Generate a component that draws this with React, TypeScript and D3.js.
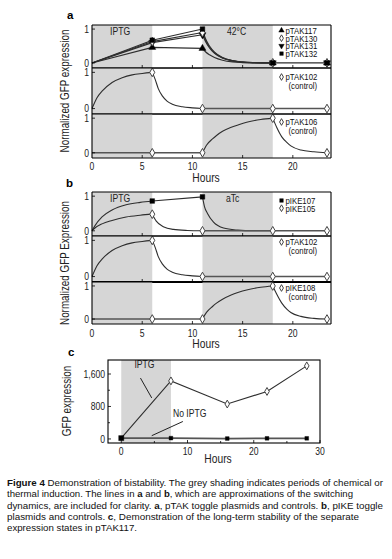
import React from 'react';
import * as d3 from 'd3';

type Pt = [number, number];

const FONT = "'Liberation Sans', Arial, sans-serif";
const SX = 0.82; // horizontal condensing of the figure's narrow typeface

// ---------- shared axis data ----------
const hourTicks = [0, 5, 10, 15, 20];
const inductionPeriods: Pt[] = [[0, 6], [11, 18]];
const sampleHours = [6, 11, 18, 23.4];

// ---------- panel a, top: pTAK toggles (markers at sampleHours) ----------
const pTAK117 = [0.46, 0.43, 0, 0];
const pTAK130 = [0.63, 0.9, 0, 0];
const pTAK131 = [0.6, 0.83, 0, 0];
const pTAK132 = [0.67, 1.0, 0, 0];
const decay117: Pt[] = [[11, 0.43], [11.3, 0.33], [11.7, 0.24], [12.2, 0.16], [13, 0.08], [14, 0.03], [15, 0.01], [16, 0], [18, 0]];
const decay130: Pt[] = [[11, 0.9], [11.3, 0.68], [11.7, 0.47], [12.2, 0.3], [13, 0.15], [14, 0.06], [15, 0.025], [16, 0.01], [18, 0]];
const decay131: Pt[] = [[11, 0.83], [11.3, 0.63], [11.7, 0.44], [12.2, 0.28], [13, 0.14], [14, 0.06], [15, 0.02], [16, 0.01], [18, 0]];
const decay132: Pt[] = [[11, 1.0], [11.3, 0.72], [11.7, 0.5], [12.2, 0.32], [13, 0.16], [14, 0.07], [15, 0.03], [16, 0.01], [18, 0]];

// ---------- control pTAK102 (IPTG-only reporter) ----------
const pTAK102 = [1.0, 0, 0, 0];
const rise102: Pt[] = [[0, 0], [0.5, 0.3], [1, 0.48], [2, 0.72], [3, 0.85], [4, 0.93], [5, 0.97], [6, 1.0]];
const decay102: Pt[] = [[6, 1.0], [6.3, 0.8], [6.6, 0.55], [7, 0.35], [7.5, 0.2], [8, 0.12], [9, 0.05], [10, 0.02], [11, 0]];

// ---------- control pTAK106 / pIKE108 ----------
const pTAK106 = [0, 0, 1.0, 0];
const rise106: Pt[] = [[11, 0], [11.4, 0.22], [12, 0.4], [12.4, 0.5], [13, 0.62], [13.8, 0.73], [14.6, 0.81], [15.4, 0.88], [16.8, 0.96], [18, 1.0]];
const decay106: Pt[] = [[18, 1.0], [18.4, 0.73], [18.9, 0.46], [19.4, 0.3], [19.8, 0.2], [20.8, 0.08], [22.1, 0.03], [23.4, 0]];
const pIKE108 = [0, 0, 1.0, 0];
const rise108: Pt[] = [[11, 0], [11.4, 0.2], [12, 0.38], [12.4, 0.48], [13, 0.6], [13.8, 0.72], [14.6, 0.81], [15.4, 0.88], [16.8, 0.96], [18, 1.0]];
const decay108: Pt[] = [[18, 1.0], [18.4, 0.75], [18.9, 0.48], [19.4, 0.3], [19.8, 0.2], [20.8, 0.08], [22.1, 0.02], [23.4, 0]];

// ---------- panel b, top: pIKE toggles ----------
const pIKE107 = [0.86, 0.98];
const pIKE105 = [0.48, 0, 0, 0];
const rise107: Pt[] = [[0, 0], [0.3, 0.15], [1, 0.4], [2, 0.6], [3.4, 0.75], [4.8, 0.82], [6, 0.86]];
const decay107: Pt[] = [[11, 0.98], [11.2, 0.7], [11.5, 0.5], [12.1, 0.25], [13.1, 0.08], [14.5, 0.02], [16, 0], [18, 0]];
const rise105: Pt[] = [[0, 0], [0.3, 0.08], [1, 0.2], [2, 0.3], [3.4, 0.4], [4.8, 0.45], [6, 0.48]];
const decay105: Pt[] = [[6, 0.48], [6.4, 0.28], [7.1, 0.12], [8.1, 0.04], [9.5, 0.01], [11, 0]];

// ---------- panel c ----------
const cHours = [0, 7.5, 16, 22, 28];
const cIPTG = [20, 1430, 860, 1170, 1800];
const cNoIPTG = [20, 20, 10, 15, 15];
const cYTicks = [0, 800, 1600];
const cYLabels = ['0', '800', '1,600'];
const cYMinor = [400, 1200];
const cXTicks = [0, 10, 20, 30];
const cXMinor = [5, 15, 25];
const cInduction: Pt = [0, 7.5];

// ---------- caption ----------
const captionLines: { parts: [string, boolean][]; end: number }[] = [
  { parts: [['Figure 4', true], [' Demonstration of bistability. The grey shading indicates periods of chemical or', false]], end: 383 },
  { parts: [['thermal induction. The lines in ', false], ['a', true], [' and ', false], ['b', true], [', which are approximations of the switching', false]], end: 353 },
  { parts: [['dynamics, are included for clarity. ', false], ['a', true], [', pTAK toggle plasmids and controls. ', false], ['b', true], [', pIKE toggle', false]], end: 383 },
  { parts: [['plasmids and controls. ', false], ['c', true], [', Demonstration of the long-term stability of the separate', false]], end: 359 },
  { parts: [['expression states in pTAK117.', false]], end: 137 },
];

// ---------- helpers ----------
const xAB = d3.scaleLinear().domain([0, 23.8]).range([92, 331]);
const SHADE = '#d6d6d6';
const LINE = '#2e2e2e';

function NText({ x, y, size, anchor = 'start', rotate = 0, children, fill = '#222' }: {
  x: number; y: number; size: number; anchor?: string; rotate?: number; children: React.ReactNode; fill?: string;
}) {
  return (
    <text transform={`translate(${x},${y}) rotate(${rotate}) scale(${SX},1)`} textAnchor={anchor as any}
      fontSize={size} fontFamily={FONT} fill={fill}>{children}</text>
  );
}

type MarkerKind = 'square' | 'diamond' | 'triUp' | 'triDown';

function Marker({ kind, x, y, size = 22 }: { kind: MarkerKind; x: number; y: number; size?: number }) {
  const sym =
    kind === 'square' ? d3.symbolSquare : kind === 'diamond' ? d3.symbolDiamond : d3.symbolTriangle;
  const path = d3.symbol().type(sym).size(size)() as string;
  const rot = kind === 'triDown' ? ' rotate(180)' : '';
  const open = kind === 'diamond';
  return (
    <path
      d={path}
      transform={`translate(${x},${y})${rot}`}
      fill={open ? '#fff' : '#000'}
      stroke={open ? '#444' : '#000'}
      strokeWidth={open ? 1 : 0.4}
    />
  );
}

type Seg = { pts: Pt[]; smooth: boolean; width?: number; color?: string };
type MarkSet = { hours: number[]; values: number[]; kind: MarkerKind };
type Legend = { kind: MarkerKind; label: string; sub?: string };

function Sub({
  top, bottom, segs, marks, legend, legendY, extraText, bottomWidth,
}: {
  top: number; bottom: number; segs: Seg[]; marks: MarkSet[]; legend: Legend[]; legendY: number;
  extraText?: { t: string; x: number }[]; bottomWidth?: number;
}) {
  const y = d3.scaleLinear().domain([-0.15, 1.12]).range([bottom, top]);
  const mk = (smooth: boolean) =>
    d3.line<Pt>().x(d => xAB(d[0])).y(d => y(d[1])).curve(smooth ? d3.curveMonotoneX : d3.curveLinear);
  const [x0, x1] = xAB.range();
  return (
    <g>
      {inductionPeriods.map((p, i) => (
        <rect key={i} x={xAB(p[0])} y={top} width={xAB(p[1]) - xAB(p[0])} height={bottom - top} fill={SHADE} />
      ))}
      {extraText?.map((e, i) => (
        <NText key={i} x={e.x} y={top + 10} size={10.5}>{e.t}</NText>
      ))}
      {segs.map((s, i) => (
        <path key={i} d={mk(s.smooth)(s.pts) as string} fill="none" stroke={s.color ?? LINE} strokeWidth={s.width ?? 1.1} />
      ))}
      {marks.map((m, i) =>
        m.hours.map((h, j) => <Marker key={`${i}-${j}`} kind={m.kind} x={xAB(h)} y={y(m.values[j])} />)
      )}
      {hourTicks.slice(1).map(t => (
        <line key={t} x1={xAB(t)} x2={xAB(t)} y1={bottom} y2={bottom - 3} stroke="#000" strokeWidth={0.8} />
      ))}
      {[0, 1].map(v => (
        <g key={v}>
          <line x1={x0} x2={x0 + 3} y1={y(v)} y2={y(v)} stroke="#000" strokeWidth={0.8} />
          <NText x={89} y={y(v) + 3.8} anchor="end" size={10.5}>{v}</NText>
        </g>
      ))}
      {legend.map((l, i) => (
        <g key={i}>
          <Marker kind={l.kind} x={281.5} y={legendY + i * 7.7} size={13} />
          <NText x={285.5} y={legendY + i * 7.7 + 3.3} size={9.5} fill="#111">{l.label}</NText>
          {l.sub && (
            <NText x={288.5} y={legendY + i * 7.7 + 12} size={9.5} fill="#111">{l.sub}</NText>
          )}
        </g>
      ))}
      <line x1={x0} x2={x1} y1={top} y2={top} stroke="#000" strokeWidth={1.1} />
      <line x1={x0} x2={x1} y1={bottom} y2={bottom} stroke="#000" strokeWidth={bottomWidth ?? 1.1} />
      <line x1={x0} x2={x0} y1={top} y2={bottom} stroke="#000" strokeWidth={1.1} />
      <line x1={x1} x2={x1} y1={top} y2={bottom} stroke="#000" strokeWidth={1.1} />
    </g>
  );
}

function lin(pts: Pt[]): Seg { return { pts, smooth: false }; }
function crv(pts: Pt[]): Seg { return { pts, smooth: true }; }
function flat(pts: Pt[]): Seg { return { pts, smooth: false, width: 1.6, color: '#555' }; }

function XAxisLabels({ baseline, hoursY }: { baseline: number; hoursY: number }) {
  return (
    <g>
      {hourTicks.map(t => (
        <NText key={t} x={xAB(t)} y={baseline} anchor="middle" size={10.5}>{t}</NText>
      ))}
      <NText x={206} y={hoursY} anchor="middle" size={12.5}>Hours</NText>
    </g>
  );
}

function PanelC() {
  const x = d3.scaleLinear().domain([-2, 30]).range([108, 320]);
  const y = d3.scaleLinear().domain([-100, 1945]).range([443, 360]);
  const line = d3.line<number>().x((_, i) => x(cHours[i])).y(d => y(d));
  const ann = [
    { t: 'IPTG', lx: 3.5, ly: 1760, anchor: 'middle', p: [[2.9, 1500], [4.6, 1010]] as Pt[] },
    { t: 'No IPTG', lx: 7.8, ly: 540, anchor: 'start', p: [[9.3, 430], [4.6, 80]] as Pt[] },
  ];
  return (
    <g>
      <rect x={x(cInduction[0])} y={360} width={x(cInduction[1]) - x(cInduction[0])} height={83} fill={SHADE} />
      <path d={line(cNoIPTG) as string} fill="none" stroke="#555" strokeWidth={1.8} />
      <path d={line(cIPTG) as string} fill="none" stroke={LINE} strokeWidth={1.1} />
      {cIPTG.map((v, i) => i > 0 && <Marker key={i} kind="diamond" x={x(cHours[i])} y={y(v)} size={18} />)}
      {cNoIPTG.map((v, i) => <Marker key={i} kind="square" x={x(cHours[i])} y={y(v)} size={i === 0 ? 26 : 14} />)}
      {ann.map((a, i) => (
        <g key={i}>
          <NText x={x(a.lx)} y={y(a.ly)} anchor={a.anchor} size={10.5}>{a.t}</NText>
          <line x1={x(a.p[0][0])} y1={y(a.p[0][1])} x2={x(a.p[1][0])} y2={y(a.p[1][1])} stroke="#222" strokeWidth={1} />
        </g>
      ))}
      <rect x={108} y={360} width={212} height={83} fill="none" stroke="#000" strokeWidth={1.1} />
      {cYTicks.map((t, i) => (
        <g key={t}>
          <line x1={108} x2={111} y1={y(t)} y2={y(t)} stroke="#000" strokeWidth={0.8} />
          <NText x={105} y={y(t) + 3.8} anchor="end" size={10.5}>{cYLabels[i]}</NText>
        </g>
      ))}
      {cYMinor.map(t => <line key={t} x1={108} x2={110} y1={y(t)} y2={y(t)} stroke="#000" strokeWidth={0.8} />)}
      {cXTicks.map(t => (
        <g key={t}>
          <line x1={x(t)} x2={x(t)} y1={443} y2={440} stroke="#000" strokeWidth={0.8} />
          <NText x={x(t)} y={455} anchor="middle" size={10.5}>{t}</NText>
        </g>
      ))}
      {cXMinor.map(t => <line key={t} x1={x(t)} x2={x(t)} y1={443} y2={441} stroke="#000" strokeWidth={0.8} />)}
      <NText x={218} y={463} anchor="middle" size={12.5}>Hours</NText>
      <NText x={71} y={401} rotate={-90} anchor="middle" size={12}>GFP expression</NText>
    </g>
  );
}

export default function App() {
  const a1Segs: Seg[] = [
    [pTAK117, decay117], [pTAK130, decay130], [pTAK131, decay131], [pTAK132, decay132],
  ].flatMap(([v, d]) => [
    lin([[0, 0], [sampleHours[0], (v as number[])[0]], [sampleHours[1], (v as number[])[1]]]),
    crv(d as Pt[]),
  ]);
  a1Segs.push(lin([[sampleHours[2], 0], [sampleHours[3], 0]]));

  const ctl102Segs = (): Seg[] => [crv(rise102), crv(decay102), flat([[11, 0], [18, 0], [23.4, 0]])];

  return (
    <svg width={392} height={559} style={{ position: 'absolute', left: 0, top: 0, background: '#fff' }}>
      <rect width={392} height={559} fill="#fff" />
      {/* panel a */}
      <text x={67} y={19} fontSize={11.5} fontWeight="bold" fontFamily={FONT}>a</text>
      <Sub top={25} bottom={68} legendY={30.5}
        extraText={[{ t: 'IPTG', x: 110 }, { t: '42°C', x: 227 }]}
        segs={a1Segs}
        marks={[
          { hours: sampleHours, values: pTAK117, kind: 'triUp' },
          { hours: sampleHours, values: pTAK131, kind: 'triDown' },
          { hours: sampleHours, values: pTAK130, kind: 'diamond' },
          { hours: sampleHours, values: pTAK132, kind: 'square' },
        ]}
        legend={[
          { kind: 'triUp', label: 'pTAK117' }, { kind: 'diamond', label: 'pTAK130' },
          { kind: 'triDown', label: 'pTAK131' }, { kind: 'square', label: 'pTAK132' },
        ]}
      />
      <Sub top={68} bottom={114} legendY={77}
        segs={ctl102Segs()}
        marks={[{ hours: sampleHours, values: pTAK102, kind: 'diamond' }]}
        legend={[{ kind: 'diamond', label: 'pTAK102', sub: '(control)' }]}
      />
      <Sub top={114} bottom={158} legendY={122}
        segs={[flat([[0, 0], [6, 0], [11, 0]]), crv(rise106), crv(decay106)]}
        marks={[{ hours: sampleHours, values: pTAK106, kind: 'diamond' }]}
        legend={[{ kind: 'diamond', label: 'pTAK106', sub: '(control)' }]}
      />
      <XAxisLabels baseline={170} hoursY={182} />
      <NText x={69} y={91} rotate={-90} anchor="middle" size={12}>Normalized GFP expression</NText>

      {/* panel b */}
      <text x={66} y={187} fontSize={11.5} fontWeight="bold" fontFamily={FONT}>b</text>
      <Sub top={192} bottom={236} legendY={200.5}
        extraText={[{ t: 'IPTG', x: 110 }, { t: 'aTc', x: 226 }]}
        segs={[
          crv(rise107), lin([[sampleHours[0], pIKE107[0]], [sampleHours[1], pIKE107[1]]]), crv(decay107),
          crv(rise105), crv(decay105), flat([[11, 0], [18, 0], [23.4, 0]]),
        ]}
        marks={[
          { hours: sampleHours, values: pIKE105, kind: 'diamond' },
          { hours: sampleHours.slice(0, 2), values: pIKE107, kind: 'square' },
        ]}
        legend={[{ kind: 'square', label: 'pIKE107' }, { kind: 'diamond', label: 'pIKE105' }]}
      />
      <Sub top={236} bottom={282} legendY={242} bottomWidth={2.2}
        segs={ctl102Segs()}
        marks={[{ hours: sampleHours, values: pTAK102, kind: 'diamond' }]}
        legend={[{ kind: 'diamond', label: 'pTAK102', sub: '(control)' }]}
      />
      <Sub top={282} bottom={324} legendY={288}
        segs={[flat([[0, 0], [6, 0], [11, 0]]), crv(rise108), crv(decay108)]}
        marks={[{ hours: sampleHours, values: pIKE108, kind: 'diamond' }]}
        legend={[{ kind: 'diamond', label: 'pIKE108', sub: '(control)' }]}
      />
      <XAxisLabels baseline={337} hoursY={348} />
      <NText x={69} y={263} rotate={-90} anchor="middle" size={12}>Normalized GFP Expression</NText>

      {/* panel c */}
      <text x={68} y={356} fontSize={11.5} fontWeight="bold" fontFamily={FONT}>c</text>
      <PanelC />

      {/* caption */}
      {captionLines.map((l, i) => (
        <text key={i} x={7} y={486 + i * 11.3} fontSize={9.5} fontFamily={FONT} fill="#111"
          textLength={l.end - 7} lengthAdjust="spacingAndGlyphs">
          {l.parts.map(([t, b], j) => (
            <tspan key={j} fontWeight={b ? 'bold' : 'normal'}>{t}</tspan>
          ))}
        </text>
      ))}
    </svg>
  );
}
